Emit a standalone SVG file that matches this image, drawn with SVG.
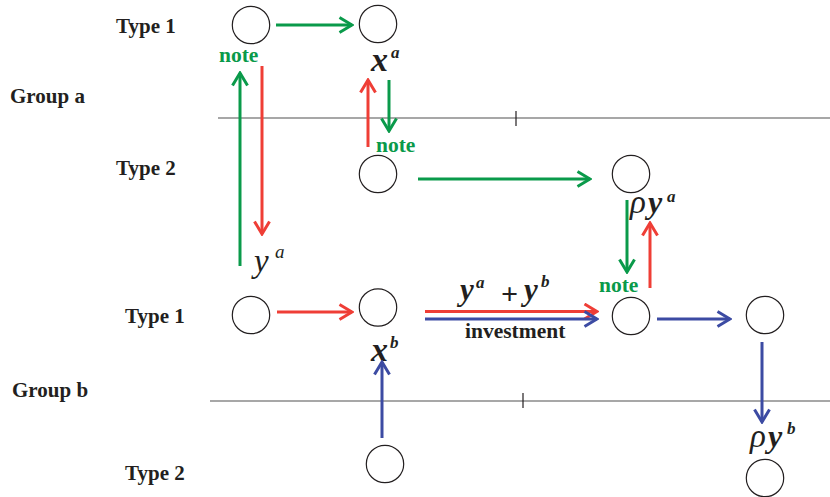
<svg xmlns="http://www.w3.org/2000/svg" width="830" height="497" viewBox="0 0 830 497">
<style>
.lbl{font-family:"Liberation Serif","Times New Roman",serif;font-weight:bold;font-size:21px;fill:#231f20}
.note{font-family:"Liberation Serif","Times New Roman",serif;font-weight:bold;font-size:21.5px;fill:#0a9a4a}
.m{font-family:"Liberation Serif","Times New Roman",serif;font-style:italic;font-weight:bold;fill:#231f20}
.mr{font-family:"Liberation Serif","Times New Roman",serif;font-style:italic;fill:#231f20}
.node{fill:#fff;stroke:#231f20;stroke-width:1.2}
.g{stroke:#0a9a4a;stroke-width:3;fill:none}
.r{stroke:#ef3e36;stroke-width:3;fill:none}
.b{stroke:#3c4ba3;stroke-width:3;fill:none}
.axis{stroke:#8a8a8a;stroke-width:1.5}
.tick{stroke:#231f20;stroke-width:1.2}
</style>
<defs>
<marker id="ag" viewBox="0 0 16 18" refX="14" refY="9" markerWidth="16" markerHeight="18" markerUnits="userSpaceOnUse" orient="auto"><path d="M1.5,1.5 L14,9 L1.5,16.5" fill="none" stroke="#0a9a4a" stroke-width="3"/></marker>
<marker id="ar" viewBox="0 0 16 18" refX="14" refY="9" markerWidth="16" markerHeight="18" markerUnits="userSpaceOnUse" orient="auto"><path d="M1.5,1.5 L14,9 L1.5,16.5" fill="none" stroke="#ef3e36" stroke-width="3"/></marker>
<marker id="ab" viewBox="0 0 16 18" refX="14" refY="9" markerWidth="16" markerHeight="18" markerUnits="userSpaceOnUse" orient="auto"><path d="M1.5,1.5 L14,9 L1.5,16.5" fill="none" stroke="#3c4ba3" stroke-width="3"/></marker>
</defs>
<rect width="830" height="497" fill="#fff"/>
<g id="axes">
<line class="axis" x1="218" y1="118" x2="830" y2="118"/>
<line class="tick" x1="516" y1="111" x2="516" y2="126"/>
<line class="axis" x1="210" y1="401" x2="830" y2="401"/>
<line class="tick" x1="523" y1="393" x2="523" y2="408"/>
</g>
<g id="labels">
<text class="lbl" x="116" y="33">Type 1</text>
<text class="lbl" x="10" y="103">Group a</text>
<text class="lbl" x="116" y="175">Type 2</text>
<text class="lbl" x="125" y="323">Type 1</text>
<text class="lbl" x="12" y="397">Group b</text>
<text class="lbl" x="125" y="480">Type 2</text>
</g>
<g id="n-a1-1"><circle class="node" cx="251" cy="25" r="18.7"/></g>
<g id="n-a1-2"><circle class="node" cx="378" cy="24" r="18.7"/><text class="m" x="371" y="71" font-size="34">x</text><text class="m" x="391" y="58" font-size="17">a</text></g>
<g id="n-a2-1"><circle class="node" cx="378" cy="174" r="18.7"/></g>
<g id="n-a2-2"><circle class="node" cx="631" cy="174" r="18.7"/><text class="mr" x="630" y="213" font-size="33">ρ</text><text class="m" x="648" y="213" font-size="32">y</text><text class="m" x="667" y="202" font-size="17">a</text></g>
<g id="n-b1-1"><circle class="node" cx="251" cy="315" r="18.7"/></g>
<g id="n-b1-2"><circle class="node" cx="378" cy="307.5" r="18.7"/><text class="m" x="371" y="361" font-size="34">x</text><text class="m" x="390" y="348" font-size="17">b</text></g>
<g id="n-b1-3"><circle class="node" cx="631" cy="316" r="18.7"/></g>
<g id="n-b1-4"><circle class="node" cx="765" cy="315" r="18.7"/></g>
<g id="n-b2-1"><circle class="node" cx="385" cy="464" r="18.7"/></g>
<g id="n-b2-2"><circle class="node" cx="765" cy="478" r="18.7"/><text class="mr" x="750" y="447" font-size="33">ρ</text><text class="m" x="768" y="447" font-size="32">y</text><text class="m" x="787" y="434" font-size="17">b</text></g>
<g id="connectors">
<line class="g" x1="276" y1="25" x2="352" y2="25" marker-end="url(#ag)"/>
<line class="g" x1="240" y1="266" x2="240" y2="73" marker-end="url(#ag)"/>
<line class="g" x1="389" y1="80" x2="389" y2="131" marker-end="url(#ag)"/>
<line class="g" x1="418" y1="179" x2="590" y2="179" marker-end="url(#ag)"/>
<line class="g" x1="627" y1="200" x2="627" y2="272" marker-end="url(#ag)"/>
<line class="r" x1="262" y1="66" x2="262" y2="234" marker-end="url(#ar)"/>
<line class="r" x1="368" y1="147" x2="368" y2="80" marker-end="url(#ar)"/>
<line class="r" x1="650" y1="288" x2="650" y2="223" marker-end="url(#ar)"/>
<line class="r" x1="277" y1="312" x2="352" y2="312" marker-end="url(#ar)"/>
<line class="r" x1="425" y1="311.5" x2="597" y2="311.5" marker-end="url(#ar)"/>
<line class="b" x1="425" y1="319" x2="597" y2="319" marker-end="url(#ab)"/>
<line class="b" x1="382" y1="438" x2="382" y2="362" marker-end="url(#ab)"/>
<line class="b" x1="657" y1="319" x2="730" y2="319" marker-end="url(#ab)"/>
<line class="b" x1="762" y1="342" x2="762" y2="422" marker-end="url(#ab)"/>
<text class="note" x="219" y="62">note</text>
<text class="note" x="376" y="152">note</text>
<text class="note" x="599" y="292">note</text>
<text class="mr" x="254" y="272" font-size="33">y</text><text class="mr" x="275" y="258" font-size="19">a</text>
<text class="m" x="460" y="300" font-size="31">y</text><text class="m" x="476" y="288" font-size="17">a</text>
<text class="lbl" x="501" y="304" style="font-size:30px">+</text>
<text class="m" x="524" y="300" font-size="31">y</text><text class="m" x="541" y="287" font-size="17">b</text>
<text class="lbl" x="465" y="338" style="font-size:21.5px">investment</text>
</g>
</svg>
